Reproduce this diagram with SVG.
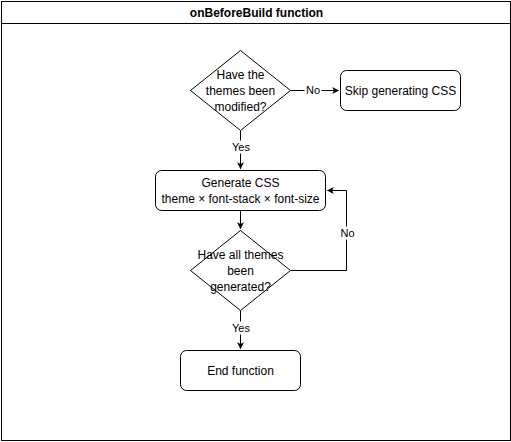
<svg xmlns="http://www.w3.org/2000/svg" width="511" height="442" viewBox="0 0 511 442">
<style>
text{font-family:"Liberation Sans",Arial,sans-serif;font-size:12px;fill:#000;text-anchor:middle}
.s{fill:#fff;stroke:#000;stroke-width:1}
.c{fill:none;stroke:#000;stroke-width:1}
.lbl{font-size:11px}
</style>
<defs>
<marker id="ah" viewBox="0 0 10 10" refX="9" refY="5" markerWidth="7" markerHeight="7" markerUnits="userSpaceOnUse" orient="auto">
<path d="M0,0 L10,5 L0,10 L2.5,5 Z" fill="#000"/>
</marker>
</defs>
<rect width="511" height="442" fill="#fff"/>
<g transform="translate(0.5,0.5)">
<g id="container">
<rect class="s" x="1" y="1" width="509" height="439"/>
<line class="c" x1="1" y1="23" x2="510" y2="23"/>
<text x="256" y="16.5" font-weight="bold">onBeforeBuild function</text>
</g>
<g id="connectors">
<path class="c" d="M290,90 L338,90" marker-end="url(#ah)"/>
<rect x="304" y="83" width="17" height="13" fill="#fff"/>
<text class="lbl" x="312.5" y="93.5">No</text>
<path class="c" d="M240,130 L240,168" marker-end="url(#ah)"/>
<rect x="230" y="140" width="21" height="13" fill="#fff"/>
<text class="lbl" x="240.5" y="150.5">Yes</text>
<path class="c" d="M240,210 L240,228" marker-end="url(#ah)"/>
<path class="c" d="M290,270 L346,270 L346,190 L327,190" marker-end="url(#ah)"/>
<rect x="338" y="226" width="17" height="13" fill="#fff"/>
<text class="lbl" x="347" y="236.5">No</text>
<path class="c" d="M240,310 L240,348" marker-end="url(#ah)"/>
<rect x="230" y="321" width="21" height="13" fill="#fff"/>
<text class="lbl" x="240.5" y="331.5">Yes</text>
</g>
<g id="q1">
<path class="s" d="M240,50 L290,90 L240,130 L190,90 Z"/>
<text x="240" y="78">Have the</text>
<text x="240" y="94">themes been</text>
<text x="240" y="110">modified?</text>
</g>
<g id="skip">
<rect class="s" x="340" y="70" width="120" height="40" rx="6"/>
<text x="400" y="94">Skip generating CSS</text>
</g>
<g id="generate">
<rect class="s" x="155" y="170" width="170" height="40" rx="6"/>
<text x="240" y="186">Generate CSS</text>
<text x="240" y="202">theme × font-stack × font-size</text>
</g>
<g id="q2">
<path class="s" d="M240,230 L290,270 L240,310 L190,270 Z"/>
<text x="240" y="258">Have all themes</text>
<text x="240" y="274">been</text>
<text x="240" y="290">generated?</text>
</g>
<g id="end">
<rect class="s" x="180" y="350" width="120" height="40" rx="6"/>
<text x="240" y="374">End function</text>
</g>
</g>
</svg>
